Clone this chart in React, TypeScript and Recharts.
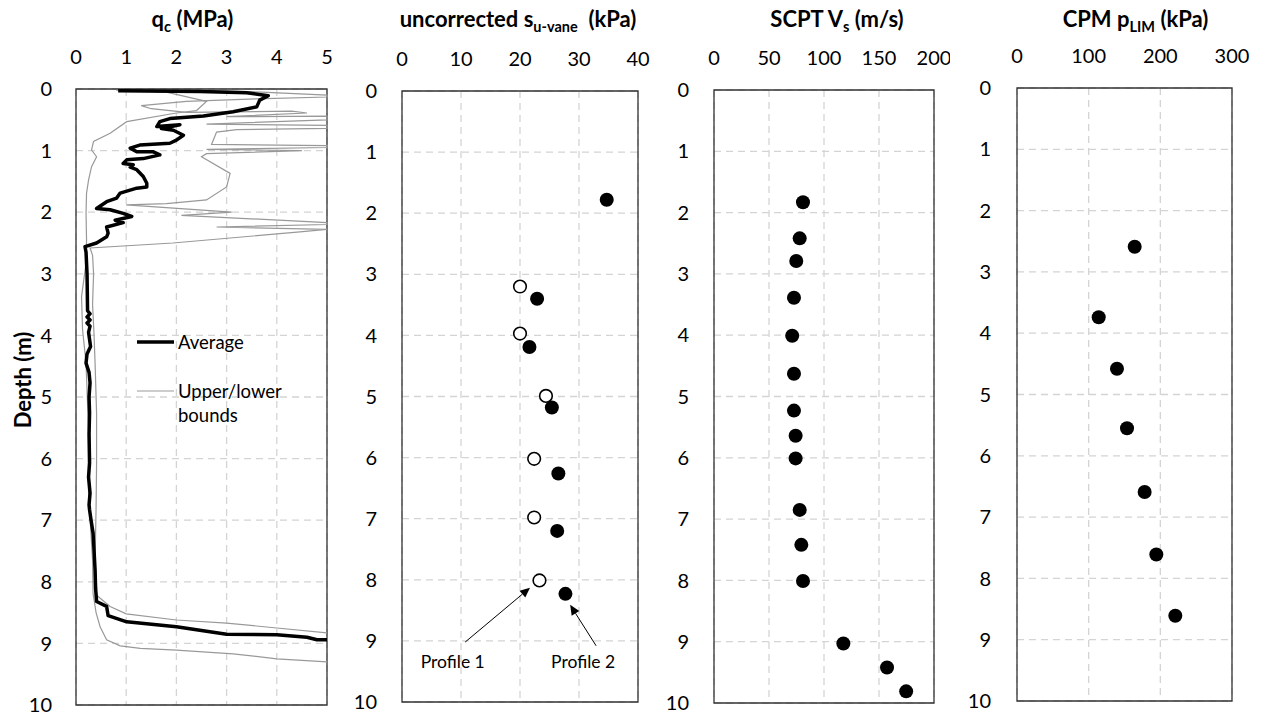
import React from 'react';
import {
  ScatterChart,
  Scatter,
  XAxis,
  YAxis,
  CartesianGrid,
  ReferenceArea,
  ReferenceLine,
  Legend,
} from 'recharts';

const FONT = 'Lato, "Open Sans", "DejaVu Sans", sans-serif';

// ---------- shared ----------
const depthTicks = [0, 1, 2, 3, 4, 5, 6, 7, 8, 9, 10];

// ---------- Panel 1: qc (MPa) ----------
const qcTicks = [0, 1, 2, 3, 4, 5];
const qcAverage: [number, number][] = [
  [0.84, 0.03], [2.47, 0.04], [3.4, 0.06], [3.83, 0.11], [3.66, 0.18], [3.6, 0.29],
  [3.13, 0.37], [2.54, 0.44], [1.87, 0.48], [1.67, 0.53], [1.61, 0.61], [2.07, 0.58],
  [1.7, 0.64], [1.94, 0.67], [2.14, 0.75], [2.0, 0.83], [1.87, 0.88], [1.27, 0.91],
  [1.08, 0.96], [1.21, 1.02], [1.54, 1.02], [1.67, 1.07], [1.34, 1.13], [1.01, 1.15],
  [0.94, 1.21], [1.14, 1.23], [1.08, 1.27], [1.21, 1.31], [1.34, 1.42], [1.41, 1.53],
  [1.41, 1.59], [1.21, 1.61], [0.88, 1.69], [0.81, 1.77], [0.61, 1.83], [0.41, 1.94],
  [0.68, 1.96], [0.94, 2.02], [1.11, 2.07], [0.78, 2.13], [0.94, 2.17], [0.61, 2.24],
  [0.64, 2.34], [0.61, 2.4], [0.41, 2.5], [0.18, 2.56], [0.2, 2.65], [0.22, 3.0],
  [0.23, 3.6], [0.28, 3.65], [0.22, 3.7], [0.28, 3.75], [0.22, 3.8], [0.28, 3.85],
  [0.25, 3.95], [0.29, 4.18], [0.22, 4.3], [0.2, 4.45], [0.26, 4.6], [0.28, 4.77],
  [0.26, 5.0], [0.27, 5.26], [0.26, 5.6], [0.27, 6.07], [0.25, 6.3], [0.28, 6.56],
  [0.26, 6.75], [0.27, 6.83], [0.3, 7.0], [0.34, 7.21], [0.36, 7.5], [0.38, 7.81],
  [0.39, 8.1], [0.41, 8.32], [0.61, 8.4], [0.64, 8.55], [1.01, 8.65], [2.0, 8.73],
  [3.0, 8.85], [4.0, 8.86], [4.6, 8.9], [4.8, 8.94], [5.0, 8.94],
];
const qcUpper: [number, number][] = [
  [2.5, 0.02], [3.7, 0.05], [5.0, 0.1], [5.0, 0.13], [3.6, 0.16], [2.2, 0.2],
  [1.3, 0.27], [1.5, 0.32], [2.2, 0.38], [4.3, 0.36], [4.6, 0.39], [3.0, 0.45],
  [5.0, 0.44], [5.0, 0.5], [2.6, 0.57], [5.0, 0.59], [5.0, 0.64], [3.2, 0.66],
  [2.8, 0.7], [2.7, 0.9], [5.0, 0.92], [5.0, 0.95], [2.6, 0.98], [4.5, 1.0],
  [2.6, 1.05], [2.5, 1.1], [3.07, 1.37], [3.0, 1.59], [2.6, 1.8], [1.8, 1.86],
  [1.0, 1.88], [3.1, 2.0], [2.1, 2.05], [5.0, 2.17], [5.0, 2.2], [2.8, 2.24],
  [5.0, 2.28], [4.46, 2.32], [1.93, 2.5], [0.28, 2.58], [0.33, 2.7], [0.35, 3.0],
  [0.33, 3.5], [0.36, 4.0], [0.38, 4.45], [0.41, 5.26], [0.41, 6.07], [0.4, 6.8],
  [0.38, 7.65], [0.41, 8.2], [0.44, 8.24], [0.68, 8.4], [1.0, 8.52], [2.0, 8.62],
  [3.0, 8.67], [4.0, 8.75], [5.0, 8.83],
];
const qcLower: [number, number][] = [
  [0.8, 0.02], [1.8, 0.05], [2.6, 0.2], [2.4, 0.35], [2.0, 0.39], [1.01, 0.53],
  [0.68, 0.72], [0.35, 0.85], [0.31, 0.99], [0.41, 1.1], [0.31, 1.26], [0.25, 1.48],
  [0.21, 1.69], [0.2, 2.02], [0.21, 2.45], [0.2, 2.83], [0.11, 3.37], [0.13, 3.9],
  [0.2, 4.45], [0.25, 5.53], [0.25, 6.56], [0.33, 7.65], [0.34, 8.19], [0.4, 8.5],
  [0.48, 8.73], [0.61, 8.94], [0.88, 9.04], [1.28, 9.08], [2.0, 9.11], [3.13, 9.17],
  [4.0, 9.25], [5.0, 9.3],
];
const legendItems = [
  { lines: ['Average'], color: '#000000', width: 3.5 },
  { lines: ['Upper/lower', 'bounds'], color: '#999999', width: 1.2 },
];

// ---------- Panel 2: vane ----------
const vaneTicks = [0, 10, 20, 30, 40];
const profile1Depth = [3.2, 3.97, 4.99, 6.02, 6.98, 8.01];
const profile1Su = [20.0, 20.0, 24.4, 22.4, 22.4, 23.3];
const profile2Depth = [1.78, 3.4, 4.19, 5.18, 6.26, 7.2, 8.23];
const profile2Su = [34.7, 22.9, 21.6, 25.4, 26.5, 26.3, 27.7];
const profileLabels = [
  { text: 'Profile 1', x: 8.6, y: 9.33 },
  { text: 'Profile 2', x: 30.7, y: 9.33 },
];
const profileArrows = [
  { from: { x: 10.7, y: 9.02 }, to: { x: 21.7, y: 8.13 } },
  { from: { x: 32.9, y: 9.08 }, to: { x: 28.5, y: 8.41 } },
];

// ---------- Panel 3: SCPT Vs ----------
const vsTicks = [0, 50, 100, 150, 200];
const vsDepth = [1.83, 2.42, 2.79, 3.39, 4.01, 4.63, 5.23, 5.64, 6.01, 6.85, 7.42, 8.01, 9.03, 9.42, 9.81];
const vsValue = [80.9, 77.9, 74.8, 72.7, 71.1, 72.7, 72.7, 74.2, 74.2, 77.9, 79.4, 80.9, 117.6, 157.3, 174.7];

// ---------- Panel 4: CPM pLIM ----------
const plimTicks = [0, 100, 200, 300];
const plimDepth = [2.59, 3.74, 4.58, 5.55, 6.59, 7.61, 8.61];
const plimValue = [164.2, 114.0, 139.5, 153.5, 178.1, 194.4, 220.9];

// ---------- helpers ----------
const toPts = (arr: [number, number][]) => arr.map(([x, y]) => ({ x, y }));
const zipPts = (xs: number[], ys: number[]) => xs.map((x, i) => ({ x, y: ys[i] }));

const tickStyle = { fontSize: 20, fill: '#000', fontFamily: FONT };
const GRID = '#d4d4d4';
const FRAME = '#333333';

type Part = { t: string; sub?: boolean };
const makeTitle = (parts: Part[], dx: number) => (props: any) => {
  const vb = props && props.viewBox ? props.viewBox : { x: 0, width: 0 };
  const cx = (vb.x || 0) + (vb.width || 0) / 2 + dx;
  const out: React.ReactNode[] = [];
  let shifted = false;
  parts.forEach((p, i) => {
    if (p.sub) {
      out.push(
        <tspan key={i} fontSize={14.5} dy={5}>
          {p.t}
        </tspan>
      );
      shifted = true;
    } else {
      out.push(
        <tspan key={i} dy={shifted ? -5 : 0} style={{ whiteSpace: 'pre' }}>
          {p.t}
        </tspan>
      );
      shifted = false;
    }
  });
  return (
    <text
      x={cx}
      y={27}
      textAnchor="middle"
      fontFamily={FONT}
      fontWeight="bold"
      fontSize={22}
      fill="#000"
      style={{ whiteSpace: 'pre' }}
    >
      {out}
    </text>
  );
};

const depthLabel = (props: any) => {
  const vb = props && props.viewBox ? props.viewBox : { y: 89, height: 616 };
  const cy = (vb.y || 0) + (vb.height || 0) / 2 - 17;
  return (
    <text
      x={22}
      y={cy}
      transform={`rotate(-90, 22, ${cy})`}
      textAnchor="middle"
      dominantBaseline="central"
      fontFamily={FONT}
      fontWeight="bold"
      fontSize={22}
      fill="#000"
    >
      Depth (m)
    </text>
  );
};

const noShape = () => <g />;
const filledDot = (p: any) => <circle cx={p.cx} cy={p.cy} r={7} fill="#000" />;
const openDot = (p: any) => (
  <circle cx={p.cx} cy={p.cy} r={6.3} fill="#fff" stroke="#000" strokeWidth={1.6} />
);
const textShape = (p: any) => (
  <text
    x={p.cx}
    y={p.cy}
    textAnchor="middle"
    dominantBaseline="central"
    fontFamily={FONT}
    fontSize={17.5}
    fill="#000"
  >
    {p.payload.text}
  </text>
);
const arrowShape = (p: any) => {
  const { x1, y1, x2, y2 } = p;
  const ang = Math.atan2(y2 - y1, x2 - x1);
  const L = 10;
  const W = 4.5;
  const bx = x2 - L * Math.cos(ang);
  const by = y2 - L * Math.sin(ang);
  const nx = -Math.sin(ang);
  const ny = Math.cos(ang);
  const pts = `${x2},${y2} ${bx + W * nx},${by + W * ny} ${bx - W * nx},${by - W * ny}`;
  return (
    <g>
      <line x1={x1} y1={y1} x2={bx} y2={by} stroke="#000" strokeWidth={1} />
      <polygon points={pts} fill="#000" />
    </g>
  );
};

const renderLegend = () => (
  <div style={{ fontFamily: FONT, fontSize: 18.5, color: '#000', lineHeight: '24px' }}>
    {legendItems.map((it, i) => (
      <div key={i} style={{ display: 'flex', alignItems: 'flex-start', marginBottom: i === 0 ? 25 : 0 }}>
        <svg width={41} height={24} style={{ flex: 'none' }}>
          <line x1={0} x2={37} y1={12} y2={12} stroke={it.color} strokeWidth={it.width} />
        </svg>
        <div>
          {it.lines.map((l, j) => (
            <div key={j}>{l}</div>
          ))}
        </div>
      </div>
    ))}
  </div>
);

const frame = (x2: number) => (
  <ReferenceArea
    x1={0}
    x2={x2}
    y1={0}
    y2={10}
    fill="none"
    fillOpacity={0}
    stroke={FRAME}
    strokeWidth={1.3}
    ifOverflow="visible"
  />
);

export default function App() {
  return (
    <div
      style={{
        position: 'absolute',
        left: 0,
        top: 0,
        width: 1266,
        height: 719,
        background: '#fff',
        overflow: 'hidden',
      }}
    >
      {/* Panel 1 */}
      <div style={{ position: 'absolute', left: 0, top: 0 }}>
        <ScatterChart width={340} height={719} margin={{ top: 0, right: 13, bottom: 14, left: 0 }}>
          <CartesianGrid stroke={GRID} strokeDasharray="7 5" strokeWidth={1.3} />
          <XAxis
            type="number"
            dataKey="x"
            orientation="top"
            domain={[0, 5]}
            ticks={qcTicks}
            interval={0}
            height={89}
            tickLine={false}
            axisLine={false}
            tickSize={0}
            tickMargin={25}
            tick={tickStyle}
            label={makeTitle([{ t: 'q' }, { t: 'c', sub: true }, { t: ' (MPa)' }], -9)}
          />
          <YAxis
            type="number"
            dataKey="y"
            reversed
            domain={[0, 10]}
            ticks={depthTicks}
            interval={0}
            width={76}
            tickLine={false}
            axisLine={false}
            tickSize={0}
            tickMargin={24}
            tick={tickStyle}
            label={depthLabel}
          />
          {frame(5)}
          <Scatter
            name="Upper/lower bounds"
            data={toPts(qcUpper)}
            fill="#999999"
            line={{ stroke: '#999999', strokeWidth: 1.2 }}
            shape={noShape}
            isAnimationActive={false}
          />
          <Scatter
            name="lower"
            data={toPts(qcLower)}
            fill="#999999"
            line={{ stroke: '#999999', strokeWidth: 1.2 }}
            shape={noShape}
            legendType="none"
            isAnimationActive={false}
          />
          <Scatter
            name="Average"
            data={toPts(qcAverage)}
            fill="#000"
            line={{ stroke: '#000', strokeWidth: 3.5, strokeLinejoin: 'round' }}
            shape={noShape}
            isAnimationActive={false}
          />
          <Legend
            layout="vertical"
            align="center"
            verticalAlign="middle"
            content={renderLegend}
            wrapperStyle={{ left: 137, top: 330, width: 170, height: 'auto' }}
          />
        </ScatterChart>
      </div>

      {/* Panel 2 */}
      <div style={{ position: 'absolute', left: 330, top: 0 }}>
        <ScatterChart width={320} height={719} margin={{ top: 0, right: 12, bottom: 17, left: 0 }}>
          <CartesianGrid stroke={GRID} strokeDasharray="7 5" strokeWidth={1.3} />
          <XAxis
            type="number"
            dataKey="x"
            orientation="top"
            domain={[0, 40]}
            ticks={vaneTicks}
            interval={0}
            height={91}
            tickLine={false}
            axisLine={false}
            tickSize={0}
            tickMargin={25}
            tick={tickStyle}
            label={makeTitle(
              [{ t: 'uncorrected s' }, { t: 'u-vane', sub: true }, { t: '  (kPa)' }],
              -2
            )}
          />
          <YAxis
            type="number"
            dataKey="y"
            reversed
            domain={[0, 10]}
            ticks={depthTicks}
            interval={0}
            width={72}
            tickLine={false}
            axisLine={false}
            tickSize={0}
            tickMargin={25}
            tick={tickStyle}
          />
          {frame(40)}
          {profileArrows.map((a, i) => (
            <ReferenceLine key={i} segment={[a.from, a.to]} shape={arrowShape} ifOverflow="visible" />
          ))}
          <Scatter
            name="Profile 1"
            data={zipPts(profile1Su, profile1Depth)}
            shape={openDot}
            isAnimationActive={false}
          />
          <Scatter
            name="Profile 2"
            data={zipPts(profile2Su, profile2Depth)}
            shape={filledDot}
            isAnimationActive={false}
          />
          <Scatter
            name="labels"
            data={profileLabels}
            shape={textShape}
            legendType="none"
            isAnimationActive={false}
          />
        </ScatterChart>
      </div>

      {/* Panel 3 */}
      <div style={{ position: 'absolute', left: 650, top: 0 }}>
        <ScatterChart width={300} height={719} margin={{ top: 0, right: 16, bottom: 16, left: 0 }}>
          <CartesianGrid stroke={GRID} strokeDasharray="7 5" strokeWidth={1.3} />
          <XAxis
            type="number"
            dataKey="x"
            orientation="top"
            domain={[0, 200]}
            ticks={vsTicks}
            interval={0}
            height={90}
            tickLine={false}
            axisLine={false}
            tickSize={0}
            tickMargin={25}
            tick={tickStyle}
            label={makeTitle([{ t: 'SCPT V' }, { t: 's', sub: true }, { t: ' (m/s)' }], 13)}
          />
          <YAxis
            type="number"
            dataKey="y"
            reversed
            domain={[0, 10]}
            ticks={depthTicks}
            interval={0}
            width={64}
            tickLine={false}
            axisLine={false}
            tickSize={0}
            tickMargin={25}
            tick={tickStyle}
          />
          {frame(200)}
          <Scatter
            name="Vs"
            data={zipPts(vsValue, vsDepth)}
            shape={filledDot}
            isAnimationActive={false}
          />
        </ScatterChart>
      </div>

      {/* Panel 4 */}
      <div style={{ position: 'absolute', left: 950, top: 0 }}>
        <ScatterChart width={316} height={719} margin={{ top: 0, right: 34, bottom: 18, left: 0 }}>
          <CartesianGrid stroke={GRID} strokeDasharray="7 5" strokeWidth={1.3} />
          <XAxis
            type="number"
            dataKey="x"
            orientation="top"
            domain={[0, 300]}
            ticks={plimTicks}
            interval={0}
            height={88}
            tickLine={false}
            axisLine={false}
            tickSize={0}
            tickMargin={25}
            tick={tickStyle}
            label={makeTitle([{ t: 'CPM p' }, { t: 'LIM', sub: true }, { t: ' (kPa)' }], 11)}
          />
          <YAxis
            type="number"
            dataKey="y"
            reversed
            domain={[0, 10]}
            ticks={depthTicks}
            interval={0}
            width={67}
            tickLine={false}
            axisLine={false}
            tickSize={0}
            tickMargin={26}
            tick={tickStyle}
          />
          {frame(300)}
          <Scatter
            name="pLIM"
            data={zipPts(plimValue, plimDepth)}
            shape={filledDot}
            isAnimationActive={false}
          />
        </ScatterChart>
      </div>
    </div>
  );
}
